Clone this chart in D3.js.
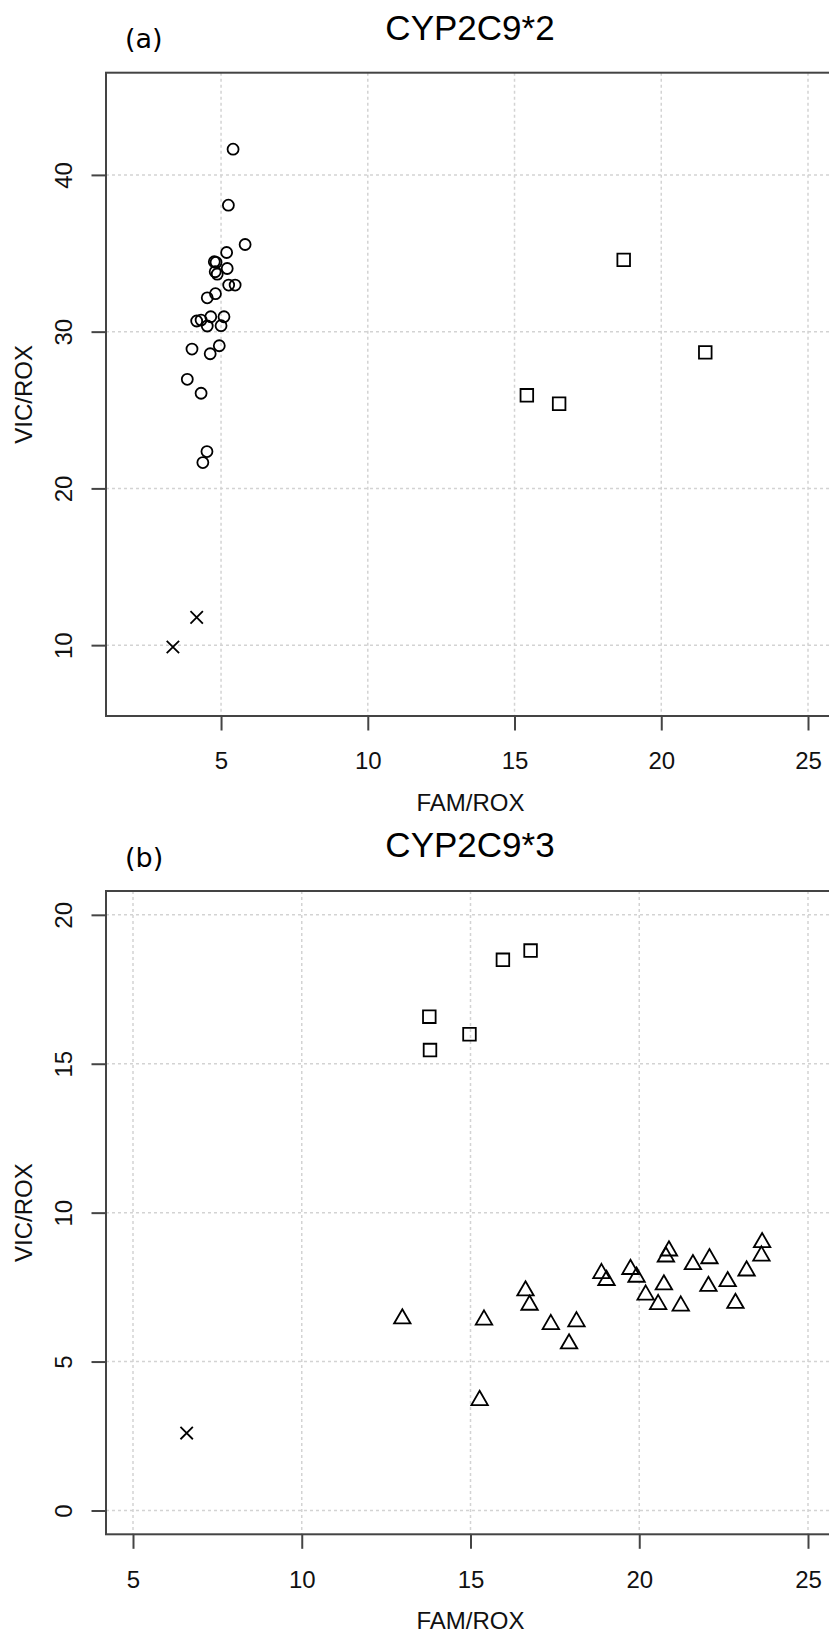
<!DOCTYPE html>
<html>
<head>
<meta charset="utf-8">
<script src="https://cdn.jsdelivr.net/npm/d3@7"></script>
<style>
  html, body { margin: 0; padding: 0; background: #ffffff; overflow: hidden; }
  svg { display: block; }
</style>
</head>
<body>
<svg id="chart" width="829" height="1634"></svg>
<script>
// ---- Panel (a): CYP2C9*2 ----
const cyp2Title = "CYP2C9*2";
const cyp2Tag = "(a)";
const cyp2XLim = [2, 25];
const cyp2YLim = [7, 45];
const cyp2XTicks = [5, 10, 15, 20, 25];
const cyp2YTicks = [10, 20, 30, 40];

// circles
const cyp2CircleFam = [5.41, 5.25, 5.82, 5.19, 4.77, 4.83, 5.21, 4.80, 4.87, 5.26, 5.48, 4.81, 4.53,
                       5.10, 4.65, 4.17, 4.32, 4.53, 5.00, 4.94, 4.01, 4.63, 3.85, 4.32, 4.52, 4.38];
const cyp2CircleVic = [41.64, 38.07, 35.56, 35.05, 34.46, 34.42, 34.03, 33.82, 33.67, 32.97, 32.97, 32.42, 32.16,
                       30.95, 30.95, 30.68, 30.74, 30.36, 30.38, 29.10, 28.89, 28.59, 26.96, 26.07, 22.35, 21.65];
// squares
const cyp2SquareFam = [18.72, 21.50, 15.42, 16.52];
const cyp2SquareVic = [34.58, 28.68, 25.94, 25.40];
// crosses
const cyp2CrossFam = [4.17, 3.36];
const cyp2CrossVic = [11.77, 9.88];

// ---- Panel (b): CYP2C9*3 ----
const cyp3Title = "CYP2C9*3";
const cyp3Tag = "(b)";
const cyp3XLim = [5, 25];
const cyp3YLim = [0, 20];
const cyp3XTicks = [5, 10, 15, 20, 25];
const cyp3YTicks = [0, 5, 10, 15, 20];

// triangles
const cyp3TriangleFam = [12.98, 15.40, 16.63, 16.75, 17.38, 18.14, 17.92, 15.27, 18.88, 19.03, 19.74, 19.92, 20.19,
                         20.56, 20.73, 20.88, 20.79, 21.23, 21.59, 22.08, 22.05, 22.62, 22.85, 23.18, 23.64, 23.62];
const cyp3TriangleVic = [6.44, 6.40, 7.38, 6.90, 6.25, 6.34, 5.60, 3.70, 7.96, 7.73, 8.10, 7.84, 7.24,
                         6.92, 7.58, 8.72, 8.52, 6.87, 8.26, 8.46, 7.53, 7.69, 6.96, 8.05, 9.00, 8.55];
// squares
const cyp3SquareFam = [16.78, 15.96, 13.78, 14.97, 13.80];
const cyp3SquareVic = [18.80, 18.49, 16.58, 15.99, 15.46];
// crosses
const cyp3CrossFam = [6.59];
const cyp3CrossVic = [2.60];

const xLabel = "FAM/ROX";
const yLabel = "VIC/ROX";

// ---- drawing ----
const svg = d3.select("#chart");
svg.append("rect").attr("width", 829).attr("height", 1634).attr("fill", "#ffffff");

const FONT = "'Liberation Sans', Arial, Helvetica, sans-serif";
const AXIS_COL = "#444444";
const GRID_COL = "#d3d3d3";

// axis range padded by 4% on both sides
function padded(lim) {
  const d = (lim[1] - lim[0]) * 0.04;
  return [lim[0] - d, lim[1] + d];
}

function zip(xs, ys) { return xs.map((v, i) => ({ x: v, y: ys[i] })); }

const symbolPath = {
  circle: r => `M${-r},0a${r},${r} 0 1,0 ${2 * r},0a${r},${r} 0 1,0 ${-2 * r},0Z`,
  square: r => `M${-r},${-r}H${r}V${r}H${-r}Z`,
  cross: r => `M${-r},${-r}L${r},${r}M${-r},${r}L${r},${-r}`,
  triangle: r => {
    const h = r * 1.5, top = -r, base = r / 2, hw = h / Math.sqrt(3);
    return `M0,${top}L${hw},${base}L${-hw},${base}Z`;
  }
};
const symbolSize = { circle: 5.5, square: 6.3, cross: 6.2, triangle: 9.5 };

function drawPanel(cfg) {
  const { left, right, top, bottom } = cfg.box;
  const x = d3.scaleLinear().domain(padded(cfg.xlim)).range([left, right]);
  const y = d3.scaleLinear().domain(padded(cfg.ylim)).range([bottom, top]);
  const g = svg.append("g");

  // grid
  const grid = g.append("g").attr("stroke", GRID_COL).attr("stroke-width", 1.5)
    .attr("stroke-dasharray", "3,3");
  grid.selectAll("line.v").data(cfg.xTicks).join("line").attr("class", "v")
    .attr("x1", d => x(d)).attr("x2", d => x(d)).attr("y1", top).attr("y2", bottom);
  grid.selectAll("line.h").data(cfg.yTicks).join("line").attr("class", "h")
    .attr("y1", d => y(d)).attr("y2", d => y(d)).attr("x1", left).attr("x2", right);

  // points
  cfg.series.forEach(s => {
    const r = symbolSize[s.shape];
    g.append("g").selectAll("path").data(zip(s.xs, s.ys)).join("path")
      .attr("transform", d => `translate(${x(d.x)},${y(d.y)})`)
      .attr("d", symbolPath[s.shape](r))
      .attr("fill", "none").attr("stroke", "#000").attr("stroke-width", 1.8);
  });

  // frame
  g.append("rect").attr("x", left).attr("y", top)
    .attr("width", right - left).attr("height", bottom - top)
    .attr("fill", "none").attr("stroke", AXIS_COL).attr("stroke-width", 2);

  // x axis
  const xa = g.append("g").attr("transform", `translate(0,${bottom})`)
    .call(d3.axisBottom(x).tickValues(cfg.xTicks).tickSize(14.5).tickFormat(d3.format("d")));
  xa.select(".domain").remove();
  xa.selectAll(".tick line").attr("stroke", AXIS_COL).attr("stroke-width", 2);
  xa.selectAll(".tick text").attr("y", 53.3).attr("dy", null)
    .attr("font-family", FONT).attr("font-size", 24).attr("fill", "#111");

  // y axis
  const ya = g.append("g").attr("transform", `translate(${left},0)`)
    .call(d3.axisLeft(y).tickValues(cfg.yTicks).tickSize(14.5).tickFormat(d3.format("d")));
  ya.select(".domain").remove();
  ya.selectAll(".tick line").attr("stroke", AXIS_COL).attr("stroke-width", 2);
  ya.selectAll(".tick text").attr("x", null).attr("dy", null)
    .attr("transform", "translate(-34.3,0) rotate(-90)")
    .attr("text-anchor", "middle")
    .attr("font-family", FONT).attr("font-size", 24).attr("fill", "#111");

  // axis titles
  g.append("text").attr("x", (left + right) / 2).attr("y", bottom + 94.5)
    .attr("text-anchor", "middle").attr("font-family", FONT).attr("font-size", 24)
    .attr("fill", "#111").text(xLabel);
  g.append("text").attr("transform", `translate(31.7,${(top + bottom) / 2}) rotate(-90)`)
    .attr("text-anchor", "middle").attr("font-family", FONT).attr("font-size", 24)
    .attr("fill", "#111").text(yLabel);

  // main title and panel tag
  g.append("text").attr("x", 470).attr("y", cfg.titleY)
    .attr("text-anchor", "middle").attr("font-family", FONT).attr("font-size", 35)
    .attr("fill", "#000").text(cfg.title);
  g.append("text").attr("x", 125).attr("y", cfg.tagY)
    .attr("font-family", "'DejaVu Sans', Verdana, sans-serif").attr("font-size", 27)
    .attr("fill", "#000").text(cfg.tag);
}

drawPanel({
  title: cyp2Title, tag: cyp2Tag, titleY: 39.5, tagY: 48,
  box: { left: 106, right: 835, top: 72.7, bottom: 716 },
  xlim: cyp2XLim, ylim: cyp2YLim, xTicks: cyp2XTicks, yTicks: cyp2YTicks,
  series: [
    { shape: "circle", xs: cyp2CircleFam, ys: cyp2CircleVic },
    { shape: "square", xs: cyp2SquareFam, ys: cyp2SquareVic },
    { shape: "cross", xs: cyp2CrossFam, ys: cyp2CrossVic }
  ]
});

drawPanel({
  title: cyp3Title, tag: cyp3Tag, titleY: 857.3, tagY: 867,
  box: { left: 106, right: 835, top: 891, bottom: 1534.3 },
  xlim: cyp3XLim, ylim: cyp3YLim, xTicks: cyp3XTicks, yTicks: cyp3YTicks,
  series: [
    { shape: "triangle", xs: cyp3TriangleFam, ys: cyp3TriangleVic },
    { shape: "square", xs: cyp3SquareFam, ys: cyp3SquareVic },
    { shape: "cross", xs: cyp3CrossFam, ys: cyp3CrossVic }
  ]
});
</script>
</body>
</html>
